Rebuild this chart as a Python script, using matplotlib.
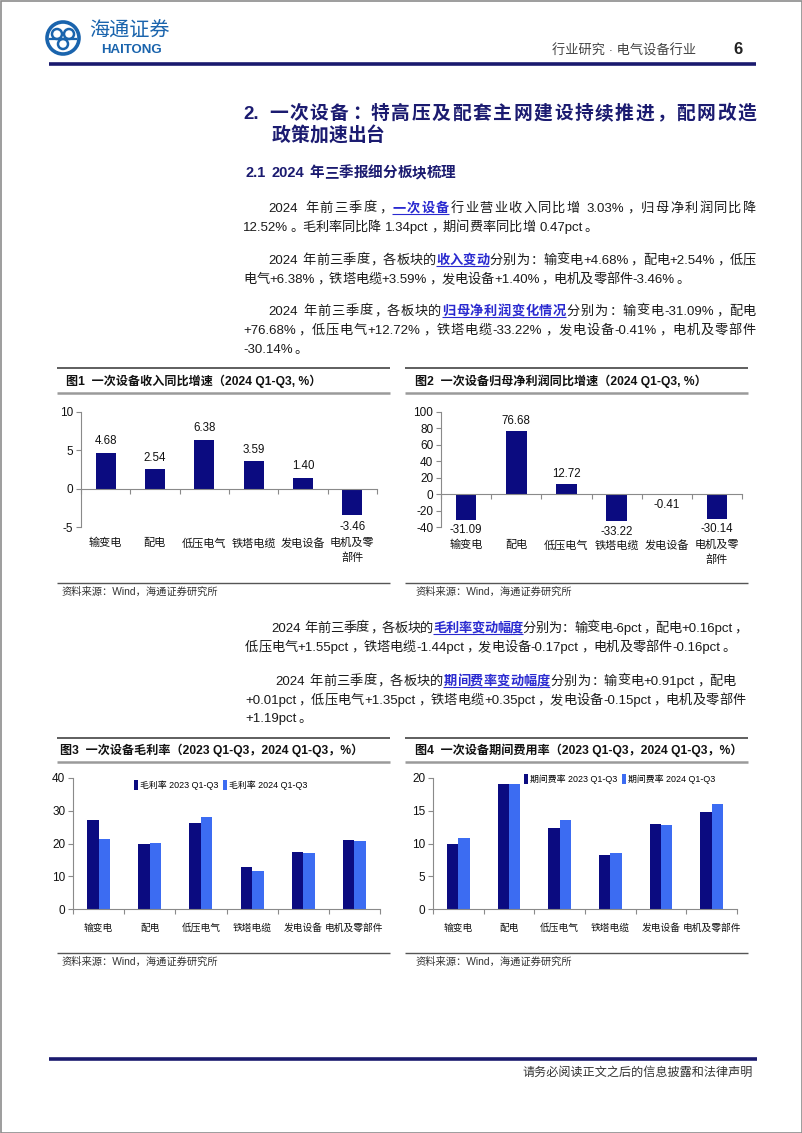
import numpy as np
import matplotlib
matplotlib.use('Agg')
import matplotlib.pyplot as plt
from matplotlib.transforms import Affine2D
from matplotlib.patches import Rectangle, Circle
from matplotlib.lines import Line2D

# ---------------- data ----------------
categories = ['输变电', '配电', '低压电气', '铁塔电缆', '发电设备', '电机及零部件']
revenue_growth = [4.68, 2.54, 6.38, 3.59, 1.40, -3.46]
profit_growth = [-31.09, 76.68, 12.72, -33.22, -0.41, -30.14]
gross_margin_2023 = [27.3, 20.0, 26.4, 12.9, 17.4, 20.95]
gross_margin_2024 = [21.3, 20.16, 27.95, 11.46, 17.23, 20.79]
expense_ratio_2023 = [9.88, 19.03, 12.30, 8.25, 13.05, 14.80]
expense_ratio_2024 = [10.79, 19.04, 13.65, 8.60, 12.90, 15.99]
chart1_yticks = [-5, 0, 5, 10]
chart2_yticks = [-40, -20, 0, 20, 40, 60, 80, 100]
chart3_yticks = [0, 10, 20, 30, 40]
chart4_yticks = [0, 5, 10, 15, 20]
legend3 = ['毛利率 2023 Q1-Q3', '毛利率 2024 Q1-Q3']
legend4 = ['期间费率 2023 Q1-Q3', '期间费率 2024 Q1-Q3']

# ---------------- style ----------------
CJK = 'Noto Sans CJK SC'
FAM = ['Liberation Sans', CJK]
NARROW = ['Liberation Sans Narrow', 'Liberation Sans', CJK]
plt.rcParams['font.family'] = FAM
plt.rcParams['axes.unicode_minus'] = False
NAVY = '#1b1b70'
DARK = '#0b0b80'
LIGHT = '#3c6cf2'
AXIS = '#8a8a8a'
TXT = '#1a1a1a'
HL = '#2a2ad0'
LOGO = '#1a64ad'

W, H = 802, 1133
fig = plt.figure(figsize=(W / 100, H / 100), dpi=100)
PX = Affine2D().scale(1 / W, -1 / H).translate(0, 1) + fig.transFigure
renderer = fig.canvas.get_renderer()


def hline(x0, x1, y, color, lw):
    fig.add_artist(Line2D([x0, x1], [y, y], transform=PX, color=color, lw=lw,
                          solid_capstyle='butt'))


def is_cjk(s):
    return len(s) == 1 and ord(s) >= 0x2E80


def tokenize(s):
    toks, buf = [], ''
    for ch in s:
        if ch == ' ' or is_cjk(ch):
            if buf:
                toks.append(buf)
                buf = ''
            toks.append(ch)
        else:
            buf += ch
    if buf:
        toks.append(buf)
    return toks


def draw_line(segs, x0, y, x1=None, size=9.5, color=TXT, weight='normal'):
    em = size * 100 / 72
    items = []
    for txt, hl in segs:
        for tk in tokenize(txt):
            if tk == ' ':
                items.append([None, em * 0.3, hl, tk])
                continue
            t = fig.text(0, 0, tk, transform=PX, fontsize=size, family=FAM,
                         color=HL if hl else color,
                         fontweight='bold' if (hl or weight == 'bold') else 'normal',
                         va='baseline', ha='left')
            if is_cjk(tk):
                w = em
            else:
                w = t.get_window_extent(renderer).width + em * 0.07
            items.append([t, w, hl, tk])
    total = sum(i[1] for i in items)
    gap = 0
    if x1 is not None and len(items) > 1:
        gap = (x1 - x0 - total) / (len(items) - 1)
    x = x0
    base = y + em * 0.36
    spans = []
    for t, w, hl, tk in items:
        if t is not None:
            if is_cjk(tk):
                if tk in '，。：；、':
                    t.set_ha('left'); t.set_position((x + em * 0.08, base))
                elif tk == '（':
                    t.set_ha('right'); t.set_position((x + em * 0.92, base))
                elif tk == '）':
                    t.set_ha('left'); t.set_position((x + em * 0.08, base))
                else:
                    t.set_ha('center'); t.set_position((x + em / 2, base))
            else:
                t.set_position((x, base))
        if hl:
            if spans and spans[-1][2]:
                spans[-1][1] = x + w
            else:
                spans.append([x, x + w, True])
        else:
            spans.append([x, x + w, False])
        x += w + gap
    for s0, s1, h in spans:
        if h:
            hline(s0, s1, base + 2.5, HL, 0.8)


# ---------------- page frame / header ----------------
fig.add_artist(Rectangle((0.5, 0.5), W - 1, H - 1, transform=PX, fill=False,
                         ec='#8c8c8c', lw=1.2))
fig.add_artist(Circle((63, 38), 16, transform=PX, fill=False, ec=LOGO, lw=2.6))
for cx, cy in [(57, 34), (69, 34), (63, 44)]:
    fig.add_artist(Circle((cx, cy), 5, transform=PX, fill=False, ec=LOGO, lw=1.8))
fig.add_artist(Line2D([50, 76], [39, 39], transform=PX, color=LOGO, lw=1.6))
fig.text(89, 31, '海通证券', transform=PX, fontsize=14.5, family=CJK, color=LOGO,
         va='center', ha='left', fontstyle='italic')
fig.text(101, 50, 'HAITONG', transform=PX, fontsize=9.5, family=FAM, color=LOGO,
         fontweight='bold', va='center', ha='left')
fig.text(552, 51, '行业研究 · 电气设备行业', transform=PX, fontsize=9.5, family=FAM,
         color='#444444', va='center', ha='left')
fig.text(738, 50, '6', transform=PX, fontsize=12, family=FAM, color='#222222',
         fontweight='bold', va='center', ha='center')
hline(49, 756, 64, '#1a1a6e', 2.6)

# ---------------- headings ----------------
draw_line([('2. 一次设备：特高压及配套主网建设持续推进，配网改造', False)], 243, 112,
          x1=756, size=13.5, color=NAVY, weight='bold')
draw_line([('政策加速出台', False)], 272, 134, size=13.5, color=NAVY, weight='bold')
draw_line([('2.1 2024 年三季报细分板块梳理', False)], 246, 172, size=10.5,
          color=NAVY, weight='bold')

# ---------------- paragraphs (top) ----------------
draw_line([('2024 年前三季度，', False), ('一次设备', True),
           ('行业营业收入同比增 3.03%，归母净利润同比降', False)], 268, 207, x1=756)
draw_line([('12.52%。毛利率同比降 1.34pct，期间费率同比增 0.47pct。', False)], 243, 226)
draw_line([('2024 年前三季度，各板块的', False), ('收入变动', True),
           ('分别为：输变电+4.68%，配电+2.54%，低压', False)], 268, 259, x1=756)
draw_line([('电气+6.38%，铁塔电缆+3.59%，发电设备+1.40%，电机及零部件-3.46%。', False)],
          243, 278)
draw_line([('2024 年前三季度，各板块的', False), ('归母净利润变化情况', True),
           ('分别为：输变电-31.09%，配电', False)], 268, 310, x1=756)
draw_line([('+76.68%，低压电气+12.72%，铁塔电缆-33.22%，发电设备-0.41%，电机及零部件', False)],
          243, 329, x1=756)
draw_line([('-30.14%。', False)], 243, 348)

# ---------------- paragraphs (middle) ----------------
draw_line([('2024 年前三季度，各板块的', False), ('毛利率变动幅度', True),
           ('分别为：输变电-6pct，配电+0.16pct，', False)], 271, 627, x1=746)
draw_line([('低压电气+1.55pct，铁塔电缆-1.44pct，发电设备-0.17pct，电机及零部件-0.16pct。', False)],
          245, 646)
draw_line([('2024 年前三季度，各板块的', False), ('期间费率变动幅度', True),
           ('分别为：输变电+0.91pct，配电', False)], 275, 680, x1=736)
draw_line([('+0.01pct，低压电气+1.35pct，铁塔电缆+0.35pct，发电设备-0.15pct，电机及零部件', False)],
          245, 699, x1=746)
draw_line([('+1.19pct。', False)], 245, 717)

# ---------------- chart frames ----------------
def frame(x0, x1, ytop, ysub, ybot, title, tx, ty, src_x, src_y):
    hline(x0, x1, ytop, '#333333', 1.1)
    hline(x0, x1, ysub, '#9a9a9a', 1.8)
    hline(x0, x1, ybot, '#555555', 1.0)
    fig.text(tx, ty, title, transform=PX, fontsize=8.7, family=FAM, fontweight='bold',
             color='#111111', va='center', ha='left')
    fig.text(src_x, src_y, '资料来源：Wind，海通证券研究所', transform=PX, fontsize=7.4,
             family=FAM, color='#333333', va='center', ha='left')


frame(57, 390, 368, 393, 583, '图1  一次设备收入同比增速（2024 Q1-Q3, %）', 66, 381, 62, 592)
frame(405, 748, 368, 393, 583, '图2  一次设备归母净利润同比增速（2024 Q1-Q3, %）', 415, 381, 415, 592)
frame(57, 390, 738, 762, 953, '图3  一次设备毛利率（2023 Q1-Q3，2024 Q1-Q3，%）', 60, 750, 62, 962)
frame(405, 748, 738, 762, 953, '图4  一次设备期间费用率（2023 Q1-Q3，2024 Q1-Q3，%）', 415, 750, 415, 962)


# ---------------- charts ----------------
def px_axes(l, t, r, b):
    return fig.add_axes([l / W, 1 - b / H, (r - l) / W, (b - t) / H])


def base_style(ax, yticks, tick_family, tick_size):
    n = len(categories)
    ax.set_xlim(-0.5, n - 0.5)
    ax.set_ylim(min(yticks), max(yticks))
    ax.set_yticks(yticks)
    ax.set_yticklabels([str(v) for v in yticks], fontsize=tick_size,
                       family=tick_family, color='#111111')
    for s in ('top', 'right'):
        ax.spines[s].set_visible(False)
    for s in ('left', 'bottom'):
        ax.spines[s].set_color(AXIS)
        ax.spines[s].set_linewidth(0.8)
    ax.set_xticks(np.arange(n))
    ax.set_xticklabels([])
    ax.set_xticks(np.arange(n + 1) - 0.5, minor=True)
    ax.tick_params(axis='x', which='major', length=0)
    ax.tick_params(axis='x', which='minor', length=3.5, width=0.8, color=AXIS,
                   direction='out')
    ax.tick_params(axis='y', length=3.5, width=0.8, color=AXIS, direction='out', pad=2)
    ax.patch.set_visible(False)


def cat_labels(ax, labels, off_px, size, family):
    hpx = ax.get_position().height * H
    for i, lab in enumerate(labels):
        ax.text(i, -off_px / hpx, lab, transform=ax.get_xaxis_transform(),
                ha='center', va='top', fontsize=size, family=family,
                color='#111111', linespacing=1.45)


def wrap(label, n=4):
    return label if len(label) <= n else label[:n] + '\n' + label[n:]


def single_chart(ax, vals, yticks, pad, lab_off):
    x = np.arange(len(categories))
    bars = ax.bar(x, vals, width=0.41, color=DARK, zorder=1)
    base_style(ax, yticks, FAM, 8.5)
    ax.spines['bottom'].set_position(('data', 0))
    ax.bar_label(bars, labels=[f'{v:.2f}' for v in vals], padding=pad,
                 fontsize=8.3, family=FAM, color='#111111')
    cat_labels(ax, [wrap(c) for c in categories], lab_off, 8, FAM)


ax1 = px_axes(81, 412, 377, 527)
single_chart(ax1, revenue_growth, chart1_yticks, 4, 11)

ax2 = px_axes(441, 412, 742, 527)
single_chart(ax2, profit_growth, chart2_yticks, 3, 13)


def double_chart(ax, v1, v2, yticks, names, leg_anchor):
    x = np.arange(len(categories))
    w = 0.225
    b1 = ax.bar(x - w / 2, v1, width=w, color=DARK)
    b2 = ax.bar(x + w / 2, v2, width=w, color=LIGHT)
    base_style(ax, yticks, NARROW, 8.5)
    cat_labels(ax, categories, 14, 7, [CJK])
    ax.legend([b1, b2], names, loc='center', bbox_to_anchor=leg_anchor, ncol=2,
              frameon=False, prop={'family': NARROW, 'size': 6.4},
              handlelength=0.45, handleheight=1.4, handletextpad=0.25,
              columnspacing=0.5, borderpad=0, borderaxespad=0)


ax3 = px_axes(73, 778, 380, 909)
double_chart(ax3, gross_margin_2023, gross_margin_2024, chart3_yticks, legend3, (0.48, 0.947))

ax4 = px_axes(433, 778, 737, 909)
double_chart(ax4, expense_ratio_2023, expense_ratio_2024, chart4_yticks, legend4, (0.615, 0.995))

# ---------------- footer ----------------
hline(49, 757, 1059, '#1a1a6e', 2.6)
fig.text(753, 1073, '请务必阅读正文之后的信息披露和法律声明', transform=PX, fontsize=8.7,
         family=FAM, color='#333333', va='center', ha='right')

fig.savefig('out.png', dpi=100, facecolor='white')
